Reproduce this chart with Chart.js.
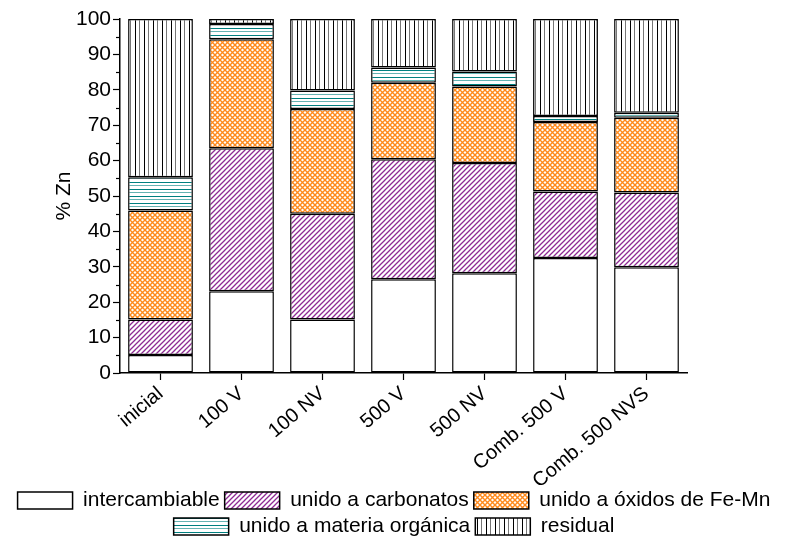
<!DOCTYPE html>
<html>
<head>
<meta charset="utf-8">
<script src="https://cdn.jsdelivr.net/npm/chart.js@4"></script>
<style>
  html, body { margin: 0; padding: 0; background: #fff; }
  #wrap { width: 788px; height: 538px; }
</style>
</head>
<body>
<div id="wrap"><canvas id="myChart" width="788" height="538"></canvas></div>
<script>
const categories = ["inicial", "100 V", "100 NV", "500 V", "500 NV", "Comb. 500 V", "Comb. 500 NVS"];

// % Zn per fraction, bottom to top
const intercambiable = [5.1, 23.1, 15.1, 26.5, 28.2, 32.5, 29.9];
const carbonatos     = [10.0, 40.4, 29.9, 33.9, 31.1, 18.8, 21.1];
const oxidos         = [30.8, 30.8, 29.6, 21.6, 21.6, 19.6, 21.1];
const organica       = [9.4, 4.3, 5.2, 4.3, 4.3, 1.7, 1.4];
const residual       = [44.7, 1.4, 20.2, 13.7, 14.8, 27.4, 26.5];

const yTicks = [0, 10, 20, 30, 40, 50, 60, 70, 80, 90, 100];

const ctx = document.getElementById('myChart').getContext("2d");
const FONT = "'Liberation Sans', Arial, sans-serif";

// hatch fills
function makePattern(w, h, draw) {
  const c = document.createElement('canvas');
  c.width = w; c.height = h;
  const g = c.getContext('2d');
  g.fillStyle = '#fff';
  g.fillRect(0, 0, w, h);
  draw(g, w, h);
  return ctx.createPattern(c, 'repeat');
}

const purpleHatch = makePattern(5, 5, (g, s) => {
  g.strokeStyle = '#8e2a94';
  g.lineWidth = 1.3;
  g.beginPath();
  g.moveTo(-1, s + 1); g.lineTo(s + 1, -1);
  g.moveTo(-1, 1); g.lineTo(1, -1);
  g.moveTo(s - 1, s + 1); g.lineTo(s + 1, s - 1);
  g.stroke();
});

const orangeCross = makePattern(5, 5, (g, s) => {
  g.strokeStyle = '#ff8a1c';
  g.lineWidth = 1.4;
  g.beginPath();
  g.moveTo(-1, -1); g.lineTo(s + 1, s + 1);
  g.moveTo(-1, s + 1); g.lineTo(s + 1, -1);
  g.stroke();
});

const tealLines = makePattern(8, 7, (g, w) => {
  g.fillStyle = '#008080';
  g.fillRect(0, 0, w, 1);
  g.fillStyle = '#66b3b3';
  g.fillRect(0, 3, w, 1);
});

const blackLines = makePattern(9, 10, (g, w, h) => {
  g.fillStyle = '#000';
  g.fillRect(0, 0, 1, h);
  g.fillStyle = '#777';
  g.fillRect(4, 0, 1, h);
});

function series(label, values, fill) {
  return {
    label: label,
    data: values,
    backgroundColor: fill,
    borderColor: '#000',
    borderWidth: 1.5,
    borderSkipped: false,
    barPercentage: 0.8,
    categoryPercentage: 1.0
  };
}

const data = {
  labels: categories,
  datasets: [
    series("intercambiable", intercambiable, '#ffffff'),
    series("unido a carbonatos", carbonatos, purpleHatch),
    series("unido a óxidos de Fe-Mn", oxidos, orangeCross),
    series("unido a materia orgánica", organica, tealLines),
    series("residual", residual, blackLines),
  ],
};

// minor ticks on the y axis (every 5)
const minorTicks = {
  id: 'minorTicks',
  afterDraw(chart) {
    const y = chart.scales.y;
    const c = chart.ctx;
    c.save();
    c.strokeStyle = '#000';
    c.lineWidth = 1.2;
    for (let v = 5; v < 100; v += 10) {
      const py = Math.round(y.getPixelForValue(v)) + 0.5;
      c.beginPath();
      c.moveTo(y.right - 4, py);
      c.lineTo(y.right, py);
      c.stroke();
    }
    c.restore();
  }
};

const config = {
  type: 'bar',
  data: data,
  plugins: [minorTicks],
  options: {
    responsive: false,
    animation: false,
    layout: { padding: { top: 19, right: 0, left: 0, bottom: -9 } },
    plugins: {
      tooltip: { enabled: false },
      legend: {
        position: 'bottom',
        labels: {
          boxWidth: 55,
          boxHeight: 17,
          padding: 5,
          color: '#000',
          font: { family: FONT, size: 21 }
        }
      }
    },
    scales: {
      x: {
        stacked: true,
        offset: true,
        border: { color: '#000', width: 1.5 },
        grid: {
          display: true,
          offset: false,
          drawOnChartArea: false,
          drawTicks: true,
          tickLength: 7,
          tickColor: '#000',
          tickWidth: 1.2
        },
        ticks: {
          color: '#000',
          font: { family: FONT, size: 20 },
          minRotation: 40,
          maxRotation: 40,
          autoSkip: false,
          padding: 2
        },
        afterFit: (scale) => { scale.height = 112; }
      },
      y: {
        stacked: true,
        min: 0,
        max: 100,
        border: { color: '#000', width: 1.5 },
        grid: {
          display: true,
          drawOnChartArea: false,
          drawTicks: true,
          tickLength: 7,
          tickColor: '#000',
          tickWidth: 1.2
        },
        afterBuildTicks: (scale) => {
          scale.ticks = yTicks.map(v => ({ value: v }));
        },
        ticks: {
          color: '#000',
          font: { family: FONT, size: 21 },
          padding: 2
        },
        title: {
          display: true,
          text: '% Zn',
          color: '#000',
          font: { family: FONT, size: 21 },
          padding: { top: 52, bottom: 0 }
        },
        afterFit: (scale) => { scale.width = 120; }
      },
      // empty right-hand spacer so the plot ends where the reference does
      spacer: {
        position: 'right',
        display: true,
        border: { display: false },
        grid: { display: false },
        ticks: { display: false },
        afterFit: (scale) => { scale.width = 101; }
      },
    },
  },
};

const myChart = new Chart(ctx, config);
</script>
</body>
</html>
